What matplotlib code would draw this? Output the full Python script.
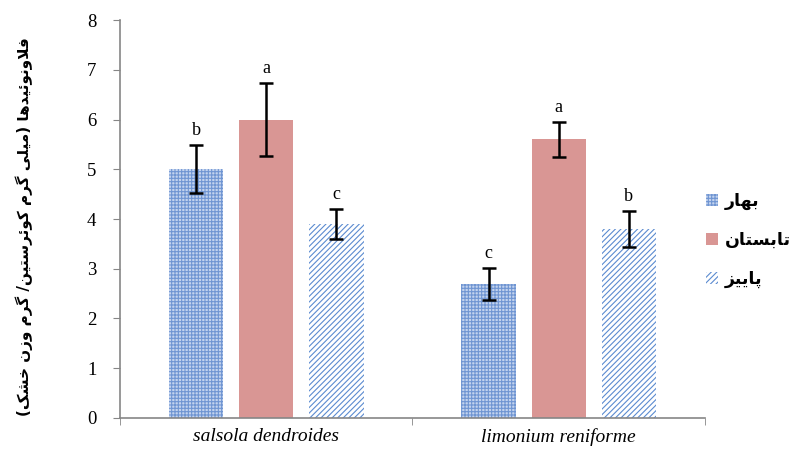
import matplotlib
matplotlib.use('Agg')
import matplotlib.pyplot as plt
import numpy as np

# data
species = ['salsola dendroides', 'limonium reniforme']
seasons = ['بهار', 'تابستان', 'پاییز']
values = [[5.0, 2.7], [6.0, 5.6], [3.9, 3.8]]
errors = [[0.48, 0.32], [0.73, 0.35], [0.3, 0.36]]
letters = [['b', 'c'], ['a', 'a'], ['c', 'b']]
ylabel = 'فلاونوئیدها (میلی گرم کوئرستین/ گرم وزن خشک)'

# tiny persian shaper (matplotlib has no arabic shaping)
forms = {
    'ا': (0xFE8D, 0xFE8E, None, None), 'د': (0xFEA9, 0xFEAA, None, None),
    'ر': (0xFEAD, 0xFEAE, None, None), 'ز': (0xFEAF, 0xFEB0, None, None),
    'و': (0xFEED, 0xFEEE, None, None),
    'ب': (0xFE8F, 0xFE90, 0xFE91, 0xFE92), 'پ': (0xFB56, 0xFB57, 0xFB58, 0xFB59),
    'ت': (0xFE95, 0xFE96, 0xFE97, 0xFE98), 'خ': (0xFEA5, 0xFEA6, 0xFEA7, 0xFEA8),
    'س': (0xFEB1, 0xFEB2, 0xFEB3, 0xFEB4), 'ش': (0xFEB5, 0xFEB6, 0xFEB7, 0xFEB8),
    'ف': (0xFED1, 0xFED2, 0xFED3, 0xFED4), 'ک': (0xFB8E, 0xFB8F, 0xFB90, 0xFB91),
    'گ': (0xFB92, 0xFB93, 0xFB94, 0xFB95), 'ل': (0xFEDD, 0xFEDE, 0xFEDF, 0xFEE0),
    'م': (0xFEE1, 0xFEE2, 0xFEE3, 0xFEE4), 'ن': (0xFEE5, 0xFEE6, 0xFEE7, 0xFEE8),
    'ه': (0xFEE9, 0xFEEA, 0xFEEB, 0xFEEC), 'ی': (0xFBFC, 0xFBFD, 0xFBFE, 0xFBFF),
    'ئ': (0xFE89, 0xFE8A, 0xFE8B, 0xFE8C),
}


def dual(c):
    return c in forms and forms[c][2] is not None


def shape(text):
    out = []
    i = 0
    n = len(text)
    while i < n:
        c = text[i]
        if c not in forms:
            out.append(c)
            i += 1
            continue
        prev = text[i - 1] if i > 0 else ''
        jp = dual(prev)
        if c == 'ل' and i + 1 < n and text[i + 1] == 'ا':
            out.append(chr(0xFEFC if jp else 0xFEFB))
            i += 2
            continue
        nxt = text[i + 1] if i + 1 < n else ''
        jn = dual(c) and nxt in forms
        iso, fin, ini, med = forms[c]
        if jp and jn:
            g = med
        elif jp:
            g = fin
        elif jn:
            g = ini
        else:
            g = iso
        out.append(chr(g))
        i += 1
    s = ''.join(out)[::-1]
    return s.translate(str.maketrans('()', ')('))


fill = ['#c3d3ee', '#d99694', 'white']
hatch_col = ['#6f95d2', '#d99694', '#5b8bd0']
hatches = ['+++++', None, '//////']

plt.rcParams['hatch.linewidth'] = 0.8
fig = plt.figure(figsize=(7.93, 4.53), dpi=100)
ax = fig.add_axes([0.1513, 0.0773, 0.7377, 0.8785])

x = np.arange(len(species))
offs = [-0.24, 0, 0.24]
handles = []
for k in range(3):
    b = ax.bar(x + offs[k], values[k], 0.186, color=fill[k], edgecolor=hatch_col[k],
               hatch=hatches[k], linewidth=0, label=shape(seasons[k]))
    handles.append(b)
    ax.errorbar(x + offs[k], values[k], yerr=errors[k], fmt='none', ecolor='black',
                elinewidth=1.8, capsize=5, capthick=1.8)
    for j in range(len(species)):
        ax.text(x[j] + offs[k], values[k][j] + errors[k][j] + 0.12, letters[k][j],
                ha='center', va='bottom', fontsize=13, family='Liberation Serif')

ax.set_xlim(-0.5, 1.5)
ax.set_ylim(0, 8)
ax.set_yticks(range(9))
ax.set_yticklabels([str(v) for v in range(9)], family='Liberation Serif', fontsize=13.5)
ax.set_xticks(x)
ax.set_xticklabels(species, family='Liberation Serif', style='italic', fontsize=14)
ax.tick_params(axis='x', length=0, pad=7)
ax.set_xticks([-0.5, 0.5, 1.5], minor=True)
ax.tick_params(axis='x', which='minor', length=5, color='#868686')
ax.tick_params(axis='y', length=5, color='#868686', pad=12)
for s in ['top', 'right']:
    ax.spines[s].set_visible(False)
for s in ['left', 'bottom']:
    ax.spines[s].set_color('#868686')
    ax.spines[s].set_linewidth(1.2)

fig.text(0.03, 0.5, shape(ylabel), rotation=90, ha='center', va='center',
         fontsize=11, fontweight='bold', family='DejaVu Sans')

leg = fig.legend(handles=handles, loc='center', bbox_to_anchor=(0.944, 0.47),
                 frameon=False, handlelength=0.7, handleheight=0.7, handletextpad=0.4,
                 labelspacing=1.2, prop={'family': 'DejaVu Sans', 'weight': 'bold', 'size': 12.5})

fig.savefig('out.png', dpi=100)
